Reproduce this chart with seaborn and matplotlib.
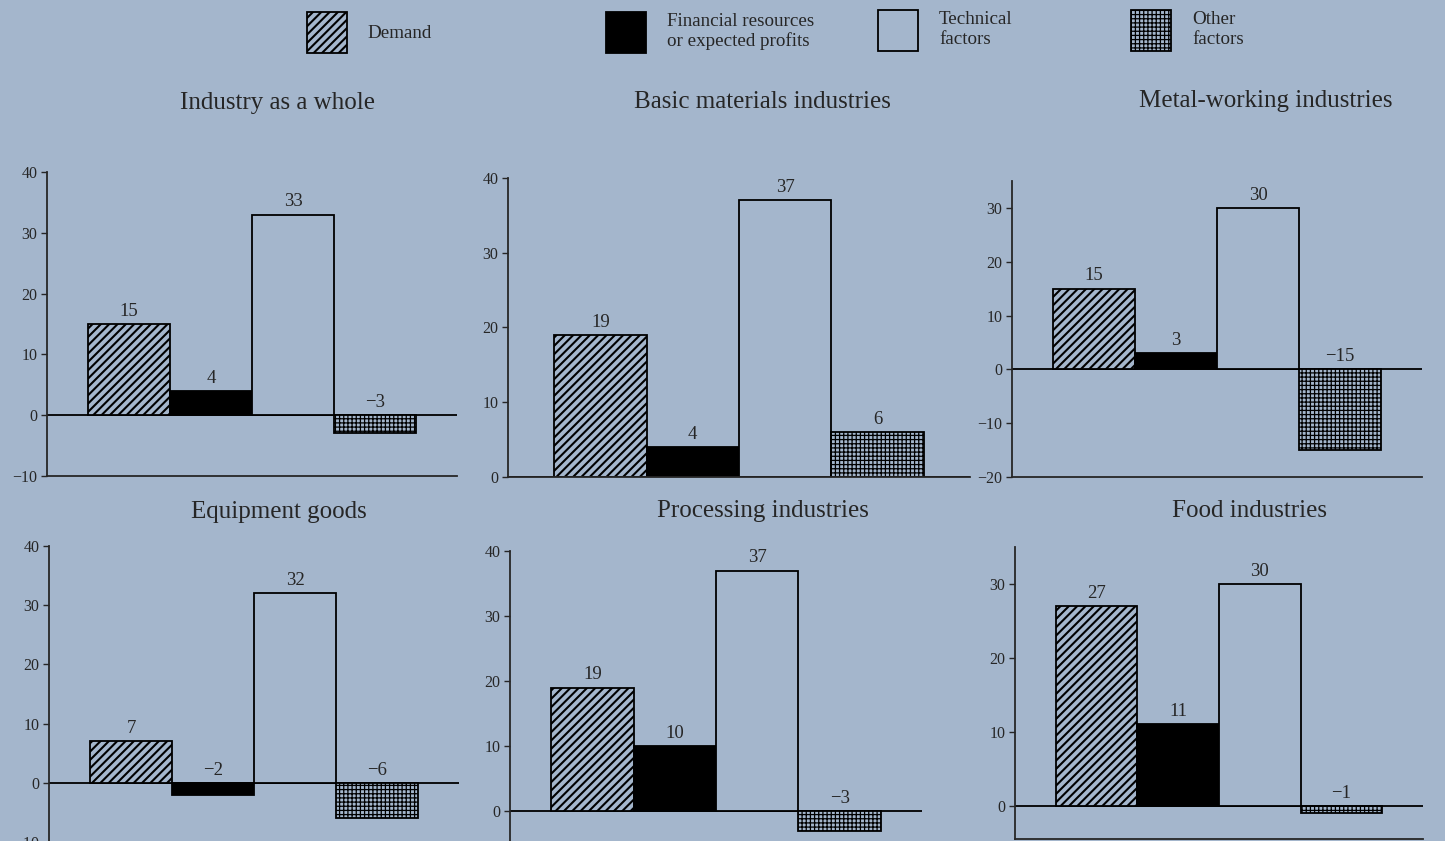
import matplotlib
matplotlib.use("Agg")
import matplotlib.pyplot as plt
from matplotlib.patches import Patch
import seaborn as sns

# factors shown in every panel
factor_keys = ["Demand", "Financial", "Technical", "Other"]
factor_labels = ["Demand", "Financial resources\nor expected profits", "Technical\nfactors", "Other\nfactors"]

# values per panel
panel_titles = ["Industry as a whole", "Basic materials industries", "Metal-working industries",
                "Equipment goods", "Processing industries", "Food industries"]
industry_whole = [15, 4, 33, -3]
basic_materials = [19, 4, 37, 6]
metal_working = [15, 3, 30, -15]
equipment_goods = [7, -2, 32, -6]
processing = [19, 10, 37, -3]
food = [27, 11, 30, -1]
panel_values = [industry_whole, basic_materials, metal_working, equipment_goods, processing, food]

# y ranges and ticks per panel
panel_ylims = [(-10, 40), (0, 40), (-20, 35), (-10, 40), (-10, 40), (-4.5, 35)]
panel_yticks = [[-10, 0, 10, 20, 30, 40], [0, 10, 20, 30, 40], [-20, -10, 0, 10, 20, 30],
                [-10, 0, 10, 20, 30, 40], [0, 10, 20, 30, 40], [0, 10, 20, 30]]

W, H = 1445, 841
bg = "#a4b6cc"
hatches = ["////", "", "", "++++"]
hatch_widths = [1.5, 1.0, 1.0, 0.9]
palette = {"Demand": bg, "Financial": "black", "Technical": bg, "Other": bg}

sns.set_style("ticks")
plt.rcParams["font.family"] = ["Liberation Serif", "DejaVu Serif"]
plt.rcParams["hatch.linewidth"] = 1.5
plt.rcParams["axes.unicode_minus"] = True


def style_hatch(patch, h, lw):
    patch.set_hatch(h)
    if hasattr(patch, "set_hatch_linewidth"):
        patch.set_hatch_linewidth(lw)


fig = plt.figure(figsize=(W / 100, H / 100), dpi=100, facecolor=bg)

# axes boxes in pixels: left, right, top, bottom
boxes = [(47, 457, 172, 476), (508, 970, 178, 477), (1012, 1422, 181, 477),
         (49, 459, 546, 842), (510, 922, 551, 876), (1015, 1423, 547, 839)]
title_pos = [(277, 103), (762, 102), (1266, 101), (279, 512), (763, 511), (1250, 511)]

for vals, title, ylim, yt, box, tp in zip(panel_values, panel_titles, panel_ylims,
                                          panel_yticks, boxes, title_pos):
    x0, x1, yt_px, yb_px = box
    ax = fig.add_axes([x0 / W, 1 - yb_px / H, (x1 - x0) / W, (yb_px - yt_px) / H])
    ax.set_facecolor("none")
    sns.barplot(x=factor_keys, y=vals, hue=factor_keys, palette=palette, width=1.0,
                saturation=1, edgecolor="black", linewidth=1.3, legend=False, ax=ax)
    for patch, h, lw in zip(ax.patches, hatches, hatch_widths):
        style_hatch(patch, h, lw)
    ax.axhline(0, color="black", lw=1.3, zorder=0.5)
    for i, v in enumerate(vals):
        ax.annotate(str(v).replace("-", "\u2212"), (i, max(v, 0)), xytext=(0, 3),
                    textcoords="offset points", ha="center", va="bottom", fontsize=13.5)
    ax.set_xlim(-1, 4)
    ax.set_ylim(*ylim)
    ax.set_yticks(yt)
    ax.set_xticks([])
    ax.set_xlabel("")
    ax.set_ylabel("")
    sns.despine(ax=ax)
    for s in ["left", "bottom"]:
        ax.spines[s].set_linewidth(1.3)
    ax.tick_params(axis="y", direction="out", length=4, width=1, labelsize=11.5, pad=3)
    fig.text(tp[0] / W, 1 - tp[1] / H, title, ha="center", va="center", fontsize=18)

# legend: one entry per block, spread along the top
legend_pos = [(307, 12), (606, 12), (878, 10), (1131, 10)]
legend_faces = [bg, "black", bg, bg]
for lab, face, h, lw, (lx, ly) in zip(factor_labels, legend_faces, hatches, hatch_widths, legend_pos):
    with plt.rc_context({"hatch.linewidth": lw}):
        handle = Patch(facecolor=face, edgecolor="black", linewidth=1.3)
        style_hatch(handle, h, lw)
        fig.legend(handles=[handle], labels=[lab], loc="upper left",
                   bbox_to_anchor=(lx / W, 1 - ly / H), frameon=False, fontsize=13.7,
                   handlelength=2.1, handleheight=2.9, handletextpad=1.1,
                   borderpad=0, borderaxespad=0, labelspacing=0)

fig.savefig("out.png", dpi=100, facecolor=bg)
